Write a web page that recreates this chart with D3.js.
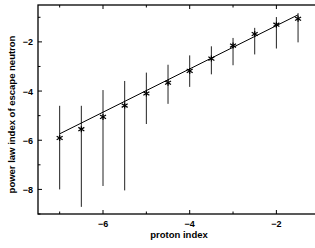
<!DOCTYPE html>
<meta charset="utf-8">
<style>
html,body { margin:0; padding:0; background:#fff; overflow:hidden; }
text { font-family: "Liberation Sans", Arial, sans-serif; font-weight: bold; fill: #000; }
</style>
<body>
<svg></svg>
</body>
<script src="https://cdn.jsdelivr.net/npm/d3@7"></script>
<script>

// proton index vs power law index of escape neutron
var protonIndex = [-7, -6.5, -6, -5.5, -5, -4.5, -4, -3.5, -3, -2.5, -2, -1.5];
var neutronIndex = [-5.91, -5.55, -5.05, -4.59, -4.10, -3.66, -3.18, -2.68, -2.15, -1.68, -1.30, -1.06];
var errHigh = [-4.60, -4.60, -3.96, -3.59, -3.25, -2.93, -2.55, -2.18, -1.84, -1.43, -0.99, -0.83];
var errLow = [-8.00, -8.71, -7.86, -8.04, -5.34, -4.52, -3.83, -3.32, -2.95, -2.51, -2.27, -2.02];
var fitX = [-7, -1.5];
var fitY = [-5.74, -0.90];
var xTicks = [-6, -4, -2];
var yTicks = [-8, -6, -4, -2];

var W = 315, H = 248;
var m = {left: 38, right: -3, top: 5, bottom: 34};

var svg = d3.select("svg").attr("width", W).attr("height", H);

var x = d3.scaleLinear().domain([-7.5, -1.04]).range([m.left, W - m.right]);
var y = d3.scaleLinear().domain([-9, -0.5]).range([H - m.bottom, m.top]);

var g = svg.append("g");

// minor + major ticks, drawn inward
var xMinor = d3.range(-7, -1, 1).filter(function(d){ return xTicks.indexOf(d) < 0; });
var yMinor = d3.range(-9, 0, 1).filter(function(d){ return yTicks.indexOf(d) < 0; });

function tickLines(vals, len) {
  vals.forEach(function(v) {
    g.append("line").attr("x1", x(v)).attr("x2", x(v))
      .attr("y1", y.range()[0]).attr("y2", y.range()[0] - len).attr("stroke", "#000");
    g.append("line").attr("x1", x(v)).attr("x2", x(v))
      .attr("y1", y.range()[1]).attr("y2", y.range()[1] + len).attr("stroke", "#000");
  });
}
function yTickLines(vals, len) {
  vals.forEach(function(v) {
    g.append("line").attr("y1", y(v)).attr("y2", y(v))
      .attr("x1", x.range()[0]).attr("x2", x.range()[0] + len).attr("stroke", "#000");
  });
}
tickLines(xTicks, 4);
tickLines(xMinor, 2.5);
yTickLines(yTicks, 4);
yTickLines(yMinor, 2.5);

// frame
g.append("rect")
  .attr("x", x.range()[0]).attr("y", y.range()[1])
  .attr("width", x.range()[1] - x.range()[0])
  .attr("height", y.range()[0] - y.range()[1])
  .attr("fill", "none").attr("stroke", "#000").attr("stroke-width", 1.3);

// labels
g.selectAll(".xl").data(xTicks).enter().append("text")
  .attr("x", function(d){ return x(d); }).attr("y", H - m.bottom + 13)
  .attr("text-anchor", "middle").attr("font-size", 9)
  .text(function(d){ return "\u2212" + Math.abs(d); });

g.selectAll(".yl").data(yTicks).enter().append("text")
  .attr("x", m.left - 5).attr("y", function(d){ return y(d) + 3.5; })
  .attr("text-anchor", "end").attr("font-size", 9)
  .text(function(d){ return "\u2212" + Math.abs(d); });

g.append("text").attr("x", 179).attr("y", 238)
  .attr("text-anchor", "middle").attr("font-size", 9.5).text("proton index");

g.append("text")
  .attr("transform", "translate(15," + ((y.range()[0] + y.range()[1]) / 2 + 5) + ") rotate(-90)")
  .attr("text-anchor", "middle").attr("font-size", 9.5)
  .text("power law index of escape neutron");

// error bars
protonIndex.forEach(function(p, i) {
  g.append("line").attr("x1", x(p)).attr("x2", x(p))
    .attr("y1", y(errLow[i])).attr("y2", y(errHigh[i]))
    .attr("stroke", "#222").attr("stroke-width", 1);
});

// fit line
g.append("line")
  .attr("x1", x(fitX[0])).attr("y1", y(fitY[0]))
  .attr("x2", x(fitX[1])).attr("y2", y(fitY[1]))
  .attr("stroke", "#000").attr("stroke-width", 1);

// asterisk markers
var s = 3;
protonIndex.forEach(function(p, i) {
  var cx = x(p), cy = y(neutronIndex[i]);
  [[0, -s, 0, s], [-s, -s * 0.6, s, s * 0.6], [-s, s * 0.6, s, -s * 0.6]].forEach(function(a) {
    g.append("line")
      .attr("x1", cx + a[0]).attr("y1", cy + a[1])
      .attr("x2", cx + a[2]).attr("y2", cy + a[3])
      .attr("stroke", "#000").attr("stroke-width", 1.2);
  });
});

</script>
